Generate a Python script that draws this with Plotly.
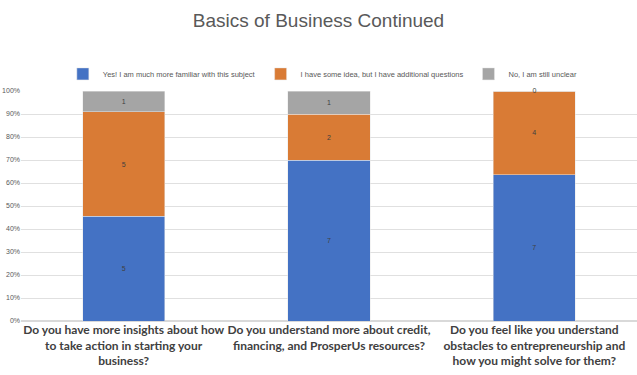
import plotly.graph_objects as go

categories = ["Q1", "Q2", "Q3"]
tick_labels = [
    "Do you have more insights about how<br>to take action in starting your<br>business?",
    "Do you understand more about credit,<br>financing, and ProsperUs resources?",
    "Do you feel like you understand<br>obstacles to entrepreneurship and<br>how you might solve for them?",
]
series_names = [
    "Yes! I am much more familiar with this subject",
    "I have some idea, but I have additional questions",
    "No, I am still unclear",
]
yes_vals = [5, 7, 7]
some_vals = [5, 2, 4]
no_vals = [1, 1, 0]
colors = ["#4472C4", "#D97B35", "#A5A5A5"]

all_vals = [yes_vals, some_vals, no_vals]
totals = [sum(v[i] for v in all_vals) for i in range(len(categories))]
xs = list(range(len(categories)))

fig = go.Figure()
cum = [0.0] * len(categories)
zero_x, zero_y, zero_t = [], [], []
for name, vals, col in zip(series_names, all_vals, colors):
    pct = [v / t * 100 for v, t in zip(vals, totals)]
    fig.add_trace(go.Bar(
        x=xs, y=pct, name=name,
        marker=dict(color=col, line=dict(color="#E8E8E8", width=0.5)),
        text=[str(v) if v > 0 else "" for v in vals],
        textposition="inside",
        insidetextanchor="middle",
        textfont=dict(size=7, color="#404040", family="Liberation Sans"),
        constraintext="none",
        width=0.4,
    ))
    for i, v in enumerate(vals):
        if v == 0:
            zero_x.append(xs[i]); zero_y.append(cum[i]); zero_t.append(str(v))
    cum = [c + p for c, p in zip(cum, pct)]

fig.add_trace(go.Scatter(
    x=zero_x, y=zero_y, text=zero_t, mode="text", textposition="middle center",
    textfont=dict(size=7, color="#404040", family="Liberation Sans"),
    showlegend=False, hoverinfo="skip", cliponaxis=False,
))

fig.update_layout(
    barmode="stack",
    width=637, height=375,
    margin=dict(l=21, r=0, t=91, b=54),
    paper_bgcolor="white", plot_bgcolor="white",
    title=dict(text="Basics of Business Continued", x=0.5, xanchor="center",
               yref="container", y=0.945, yanchor="middle",
               font=dict(size=19, color="#595959", family="Liberation Sans")),
    legend=dict(orientation="h", x=0.49, xanchor="center",
                yref="container", y=0.803, yanchor="middle",
                font=dict(size=7.5, color="#595959", family="Liberation Sans"),
                itemwidth=30, traceorder="normal"),
    showlegend=True,
    xaxis=dict(tickmode="array", tickvals=xs, ticktext=tick_labels,
               range=[-0.5, 2.5], showgrid=False, showline=False, zeroline=False,
               automargin=False, ticklen=0, tickangle=0,
               tickfont=dict(size=12, color="#404040", family="Lato", weight="bold")),
    yaxis=dict(range=[0, 100], tickvals=list(range(0, 101, 10)),
               ticktext=[f"{v}%" for v in range(0, 101, 10)],
               showgrid=True, gridcolor="#E0E0E0", gridwidth=1, zeroline=True, zerolinecolor="#D9D9D9",
               automargin=False, ticklen=0,
               tickfont=dict(size=7, color="#595959", family="Liberation Sans")),
)

fig.write_html("out.html", config={"displayModeBar": False},
               post_script="document.body.style.margin='0';document.body.style.overflow='hidden';")
